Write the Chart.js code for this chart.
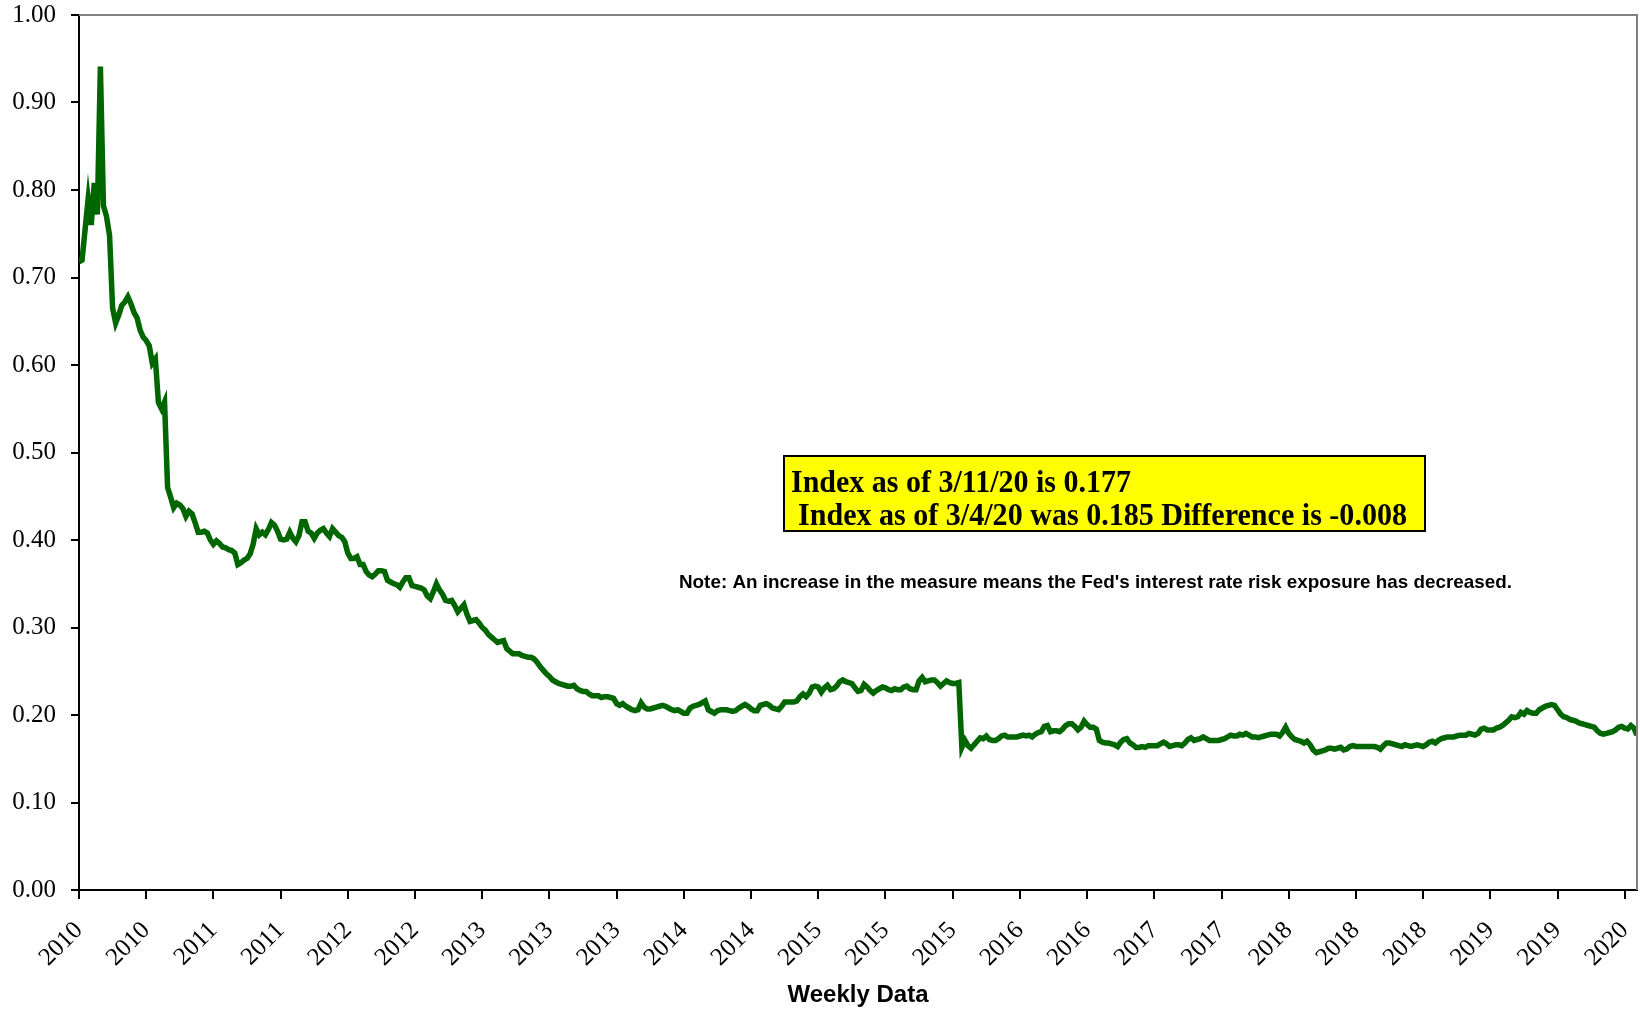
<!DOCTYPE html>
<html>
<head>
<meta charset="utf-8">
<script src="https://cdn.jsdelivr.net/npm/chart.js@4.4.1/dist/chart.umd.min.js"></script>
<style>
  html, body { margin: 0; padding: 0; background: #ffffff; }
  #wrap { width: 1640px; height: 1010px; }
</style>
</head>
<body>
<div id="wrap"><canvas id="myChart" width="1640" height="1010"></canvas></div>
<script>
// x axis: one label every 22 weeks
const tickLabels = ["2010", "2010", "2011", "2011", "2012", "2012", "2013", "2013", "2013", "2014", "2014", "2015",
  "2015", "2015", "2016", "2016", "2017", "2017", "2018", "2018", "2018", "2019", "2019", "2020"];
const tickEvery = 22;

const yTicks = [0, 0.1, 0.2, 0.3, 0.4, 0.5, 0.6, 0.7, 0.8, 0.9, 1.0];

// weekly index values
const indexValues = [
  0.718, 0.720, 0.755, 0.790, 0.760, 0.808, 0.772, 0.941, 0.782, 0.770,
  0.748, 0.665, 0.648, 0.657, 0.668, 0.672, 0.678, 0.670, 0.660, 0.654,
  0.640, 0.632, 0.628, 0.622, 0.602, 0.607, 0.557, 0.550, 0.558, 0.460,
  0.449, 0.437, 0.442, 0.440, 0.436, 0.427, 0.433, 0.430, 0.420, 0.409,
  0.409, 0.410, 0.408, 0.400, 0.395, 0.399, 0.396, 0.392, 0.391, 0.389,
  0.388, 0.385, 0.372, 0.374, 0.377, 0.379, 0.384, 0.395, 0.413, 0.406,
  0.409, 0.406, 0.412, 0.420, 0.417, 0.410, 0.401, 0.400, 0.401, 0.409,
  0.402, 0.398, 0.405, 0.421, 0.421, 0.410, 0.408, 0.402, 0.408, 0.411,
  0.413, 0.408, 0.404, 0.413, 0.409, 0.405, 0.403, 0.398, 0.385, 0.379,
  0.379, 0.381, 0.372, 0.372, 0.364, 0.360, 0.358, 0.361, 0.365, 0.365,
  0.364, 0.354, 0.352, 0.350, 0.349, 0.346, 0.352, 0.357, 0.357, 0.348,
  0.347, 0.346, 0.345, 0.343, 0.336, 0.333, 0.341, 0.350, 0.343, 0.338,
  0.331, 0.330, 0.331, 0.325, 0.318, 0.322, 0.326, 0.315, 0.307, 0.308,
  0.309, 0.305, 0.300, 0.297, 0.292, 0.289, 0.286, 0.283, 0.284, 0.285,
  0.276, 0.273, 0.270, 0.270, 0.270, 0.268, 0.267, 0.266, 0.266, 0.264,
  0.260, 0.255, 0.251, 0.247, 0.244, 0.240, 0.238, 0.236, 0.235, 0.234,
  0.233, 0.233, 0.234, 0.230, 0.228, 0.227, 0.227, 0.224, 0.222, 0.222,
  0.222, 0.220, 0.221, 0.221, 0.220, 0.219, 0.213, 0.211, 0.213, 0.210,
  0.208, 0.206, 0.205, 0.206, 0.214, 0.209, 0.207, 0.207, 0.208, 0.209,
  0.210, 0.211, 0.210, 0.208, 0.206, 0.205, 0.206, 0.204, 0.202, 0.202,
  0.208, 0.210, 0.211, 0.212, 0.214, 0.216, 0.206, 0.204, 0.202, 0.205,
  0.206, 0.206, 0.206, 0.205, 0.204, 0.205, 0.208, 0.210, 0.212, 0.210,
  0.207, 0.205, 0.205, 0.211, 0.212, 0.213, 0.211, 0.208, 0.207, 0.206,
  0.210, 0.215, 0.215, 0.215, 0.215, 0.216, 0.221, 0.224, 0.221, 0.225,
  0.232, 0.233, 0.232, 0.226, 0.231, 0.234, 0.229, 0.230, 0.233, 0.238,
  0.240, 0.238, 0.237, 0.236, 0.231, 0.227, 0.228, 0.235, 0.232, 0.228,
  0.225, 0.228, 0.230, 0.232, 0.231, 0.229, 0.228, 0.230, 0.229, 0.229,
  0.232, 0.233, 0.230, 0.229, 0.229, 0.239, 0.243, 0.238, 0.239, 0.240,
  0.240, 0.237, 0.233, 0.236, 0.239, 0.237, 0.236, 0.236, 0.237, 0.163,
  0.171, 0.165, 0.162, 0.166, 0.170, 0.174, 0.173, 0.176, 0.172, 0.171,
  0.171, 0.173, 0.176, 0.177, 0.175, 0.175, 0.175, 0.175, 0.176, 0.177,
  0.176, 0.177, 0.175, 0.178, 0.180, 0.181, 0.187, 0.188, 0.181, 0.182,
  0.182, 0.181, 0.184, 0.188, 0.190, 0.190, 0.187, 0.183, 0.186, 0.193,
  0.189, 0.186, 0.186, 0.184, 0.171, 0.169, 0.168, 0.168, 0.167, 0.166,
  0.164, 0.169, 0.172, 0.173, 0.168, 0.166, 0.163, 0.163, 0.164, 0.163,
  0.165, 0.165, 0.165, 0.165, 0.167, 0.169, 0.167, 0.164, 0.165, 0.166,
  0.166, 0.165, 0.168, 0.172, 0.174, 0.171, 0.172, 0.173, 0.175, 0.173,
  0.171, 0.171, 0.171, 0.171, 0.172, 0.173, 0.175, 0.177, 0.176, 0.176,
  0.178, 0.177, 0.179, 0.177, 0.175, 0.175, 0.174, 0.175, 0.176, 0.177,
  0.178, 0.178, 0.178, 0.176, 0.180, 0.186, 0.179, 0.175, 0.172, 0.171,
  0.170, 0.168, 0.170, 0.166, 0.160, 0.157, 0.158, 0.159, 0.160, 0.162,
  0.162, 0.161, 0.162, 0.163, 0.160, 0.161, 0.164, 0.165, 0.164, 0.164,
  0.164, 0.164, 0.164, 0.164, 0.164, 0.163, 0.161, 0.165, 0.168, 0.168,
  0.167, 0.166, 0.165, 0.164, 0.166, 0.165, 0.164, 0.165, 0.166, 0.165,
  0.164, 0.166, 0.169, 0.170, 0.168, 0.171, 0.173, 0.174, 0.175, 0.175,
  0.175, 0.176, 0.177, 0.177, 0.177, 0.179, 0.178, 0.177, 0.179, 0.184,
  0.185, 0.183, 0.183, 0.183, 0.185, 0.186, 0.188, 0.191, 0.194, 0.198,
  0.197, 0.198, 0.203, 0.201, 0.205, 0.203, 0.202, 0.202, 0.206, 0.208,
  0.210, 0.211, 0.212, 0.211, 0.206, 0.201, 0.198, 0.197, 0.195, 0.194,
  0.193, 0.191, 0.190, 0.189, 0.188, 0.187, 0.186, 0.182, 0.179, 0.178,
  0.179, 0.180, 0.181, 0.183, 0.186, 0.187, 0.185, 0.184, 0.188, 0.185,
  0.177
];

const boxLines = ["Index as of 3/11/20 is 0.177", "Index as of 3/4/20 was 0.185 Difference is -0.008"];
const noteText = "Note: An increase in the measure means the Fed's interest rate risk exposure has decreased.";

const serif = "'Liberation Serif', 'Times New Roman', serif";
const sans = "'Liberation Sans', Arial, sans-serif";

// gray frame on top/right plus the yellow box and the note
const extras = {
  id: "extras",
  afterDraw(chart) {
    const { ctx, chartArea } = chart;
    ctx.save();
    ctx.strokeStyle = "#808080";
    ctx.lineWidth = 2;
    ctx.beginPath();
    ctx.moveTo(chartArea.left, chartArea.top);
    ctx.lineTo(chartArea.right, chartArea.top);
    ctx.lineTo(chartArea.right, chartArea.bottom);
    ctx.stroke();

    ctx.fillStyle = "#ffff00";
    ctx.fillRect(784, 456, 641, 75);
    ctx.strokeStyle = "#000000";
    ctx.lineWidth = 2;
    ctx.strokeRect(784, 456, 641, 75);

    ctx.fillStyle = "#000000";
    ctx.textBaseline = "alphabetic";
    ctx.textAlign = "left";
    ctx.font = "bold 32px " + serif;
    ctx.fillText(boxLines[0], 791, 492, 340);
    ctx.fillText(boxLines[1], 798, 525, 609);

    ctx.font = "bold 19px " + sans;
    ctx.fillText(noteText, 679, 588, 833);
    ctx.restore();
  }
};

const ctx = document.getElementById("myChart");
const myChart = new Chart(ctx, {
  type: "line",
  data: {
    datasets: [
      {
        label: "Index",
        data: indexValues.map((v, i) => ({ x: i, y: v })),
        borderColor: "#006600",
        borderWidth: 5.5,
        pointRadius: 0,
        tension: 0,
        fill: false
      }
    ]
  },
  options: {
    responsive: false,
    animation: false,
    devicePixelRatio: 1,
    layout: {
      padding: { left: 0, right: 3, top: 15, bottom: 0 }
    },
    plugins: {
      legend: { display: false },
      tooltip: { enabled: false }
    },
    scales: {
      x: {
        type: "linear",
        min: 0,
        max: indexValues.length - 1,
        afterBuildTicks: (axis) => {
          axis.ticks = tickLabels.map((_, i) => ({ value: i * tickEvery }));
        },
        afterFit: (axis) => {
          axis.height = 120;
          axis.paddingLeft = 0;
          axis.paddingRight = 0;
        },
        grid: {
          drawOnChartArea: false,
          drawTicks: true,
          tickLength: 9,
          color: "#000000",
          lineWidth: 2
        },
        border: { color: "#000000", width: 2 },
        ticks: {
          autoSkip: false,
          minRotation: 45,
          maxRotation: 45,
          padding: 17,
          labelOffset: 0,
          color: "#000000",
          font: { family: serif, size: 25 },
          callback: (value, index) => tickLabels[index]
        },
        title: {
          display: true,
          text: "Weekly Data",
          color: "#000000",
          font: { family: sans, size: 24, weight: "bold" },
          padding: { top: 0, bottom: 0 }
        }
      },
      y: {
        min: 0,
        max: 1,
        afterBuildTicks: (axis) => {
          axis.ticks = yTicks.map((v) => ({ value: v }));
        },
        afterFit: (axis) => {
          axis.width = 79;
          axis.paddingTop = 0;
          axis.paddingBottom = 0;
        },
        grid: {
          drawOnChartArea: false,
          drawTicks: true,
          tickLength: 8,
          color: "#000000",
          lineWidth: 2
        },
        border: { color: "#000000", width: 2 },
        ticks: {
          padding: 15,
          color: "#000000",
          font: { family: serif, size: 25 },
          callback: (value) => value.toFixed(2)
        }
      }
    }
  },
  plugins: [extras]
});
</script>
</body>
</html>
